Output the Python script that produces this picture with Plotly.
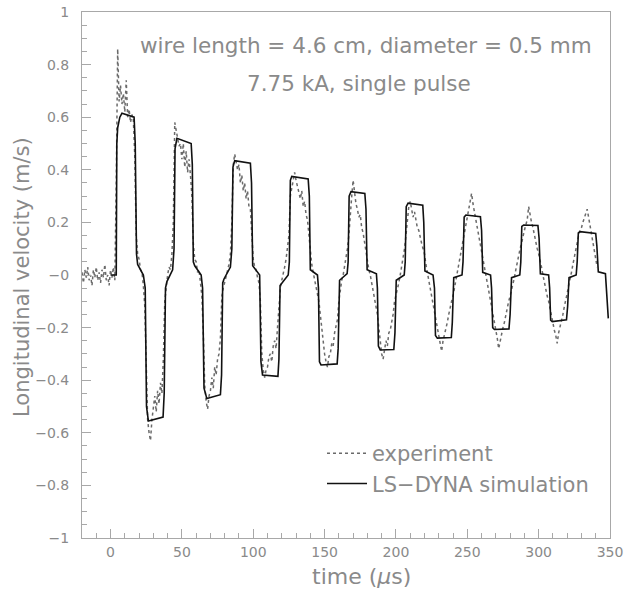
import plotly.graph_objects as go

# ---------------- data ----------------
# LS-DYNA simulation (breakpoints)
sim_t = [0, 4.0, 4.4, 5.0, 6.5, 8, 16.5, 17.3, 18.2, 19, 23, 24.3, 25.2, 26.5, 36.8, 37.6, 38.5, 39.5,
         43.5, 44.5, 45.2, 46.5, 56.5, 57.3, 58, 59, 63.5, 64.5, 65.5, 67.5, 77, 77.8, 78.6, 79.5,
         84, 85, 85.8, 87, 98, 98.8, 99.6, 104.5, 105.4, 106.5, 117.3, 118, 118.8, 124.5,
         125.3, 126, 127, 138.5, 139.3, 140, 145, 145.7, 146.4, 147.5, 158.8, 159.5, 160.5, 165.8,
         166.5, 167.2, 168.5, 178.2, 179, 179.8, 186.3, 187, 187.7, 189, 198.5, 199.3, 200.2, 205.8,
         206.5, 207.2, 208.5, 218.8, 219.5, 220.3, 226, 227, 227.7, 229, 238.8, 239.5, 240.5, 246.3,
         247, 247.8, 249, 259.2, 260, 260.8, 266.3, 267, 267.8, 269, 279.2, 280, 281, 286.8,
         287.5, 288.2, 289.5, 299.5, 300.3, 301.2, 307, 307.7, 308.4, 309.5, 319.5, 320.3, 321.3, 326.3,
         327, 327.8, 329, 340, 340.8, 341.8, 346.8, 347.6, 348.8]
sim_v = [0, 0, 0.50, 0.56, 0.60, 0.615, 0.60, 0.50, 0.08, 0.04, 0.0, -0.05, -0.50, -0.555, -0.54, -0.45, -0.05, -0.025,
         0.02, 0.10, 0.48, 0.52, 0.50, 0.42, 0.05, 0.035, 0.0, -0.05, -0.43, -0.47, -0.455, -0.38, -0.03, -0.015,
         0.03, 0.10, 0.41, 0.435, 0.425, 0.35, 0.035, 0.0, -0.33, -0.38, -0.385, -0.32, -0.04, 0.0,
         0.05, 0.36, 0.375, 0.365, 0.30, 0.02, 0.0, -0.05, -0.33, -0.342, -0.338, -0.28, -0.02, 0.005,
         0.05, 0.30, 0.317, 0.31, 0.25, 0.02, 0.005, -0.05, -0.27, -0.285, -0.283, -0.22, -0.02, 0.0,
         0.05, 0.26, 0.273, 0.265, 0.20, 0.015, 0.0, -0.05, -0.23, -0.24, -0.238, -0.18, -0.01, 0.0,
         0.05, 0.22, 0.228, 0.222, 0.17, 0.01, 0.0, -0.05, -0.20, -0.207, -0.205, -0.15, -0.01, 0.0,
         0.05, 0.185, 0.19, 0.188, 0.14, 0.005, 0.0, -0.05, -0.172, -0.177, -0.17, -0.12, -0.01, 0.0,
         0.05, 0.16, 0.165, 0.158, 0.11, 0.012, 0.005, -0.05, -0.165]

# Experiment: one reading per microsecond from t = -20 to 341
exp_t = list(range(-20, 342))
exp_v = [
    0.01, -0.03, 0.02, -0.01, 0.03, -0.02, 0.0, -0.04, 0.02, -0.01,        # -20..-11
    0.03, -0.02, 0.01, -0.03, 0.02, -0.01, 0.04, -0.02, 0.0, -0.04,        # -10..-1
    0.02, -0.01, 0.03, -0.02, 0.35, 0.86, 0.66, 0.72, 0.65, 0.69,          # 0..9
    0.62, 0.74, 0.60, 0.63, 0.58, 0.61, 0.59, 0.45, 0.15, 0.08,            # 10..19
    0.06, 0.02, 0.01, -0.04, -0.12, -0.35, -0.55, -0.60, -0.63, -0.55,     # 20..29
    -0.50, -0.46, -0.52, -0.44, -0.49, -0.41, -0.45, -0.32, -0.10, -0.04,  # 30..39
    0.0, 0.03, 0.02, 0.08, 0.20, 0.58, 0.54, 0.52, 0.49, 0.50,             # 40..49
    0.44, 0.50, 0.41, 0.47, 0.39, 0.44, 0.38, 0.30, 0.12, 0.06,            # 50..59
    0.05, 0.01, 0.02, -0.02, -0.08, -0.22, -0.42, -0.48, -0.51, -0.46,     # 60..69
    -0.44, -0.39, -0.43, -0.35, -0.38, -0.32, -0.30, -0.24, -0.08, -0.05,  # 70..79
    -0.03, 0.0, 0.02, 0.04, 0.08, 0.20, 0.42, 0.46, 0.43, 0.40,            # 80..89
    0.42, 0.35, 0.38, 0.32, 0.35, 0.29, 0.32, 0.26, 0.25, 0.15,            # 90..99
    0.06, 0.03, 0.02, -0.01, -0.03, -0.10, -0.30, -0.36, -0.39, -0.36,     # 100..109
    -0.35, -0.31, -0.30, -0.33, -0.27, -0.25, -0.28, -0.20, -0.12, -0.05,  # 110..119
    -0.02, 0.0, 0.03, 0.06, 0.10, 0.15, 0.30, 0.33, 0.37, 0.39,            # 120..129
    0.36, 0.34, 0.31, 0.29, 0.32, 0.26, 0.28, 0.23, 0.21, 0.15,            # 130..139
    0.08, 0.04, 0.01, -0.02, -0.04, -0.07, -0.10, -0.15, -0.20, -0.26,     # 140..149
    -0.30, -0.33, -0.35, -0.31, -0.30, -0.26, -0.27, -0.22, -0.20, -0.17,  # 150..159
    -0.10, -0.05, -0.02, 0.0, 0.03, 0.06, 0.10, 0.15, 0.25, 0.30,          # 160..169
    0.36, 0.30, 0.27, 0.25, 0.22, 0.23, 0.18, 0.16, 0.12, 0.10,            # 170..179
    0.06, 0.02, 0.0, -0.03, -0.06, -0.09, -0.12, -0.15, -0.20, -0.25,      # 180..189
    -0.30, -0.32, -0.28, -0.25, -0.27, -0.22, -0.21, -0.18, -0.15, -0.10,  # 190..199
    -0.08, -0.06, -0.03, 0.0, 0.03, 0.06, 0.10, 0.15, 0.22, 0.26,          # 200..209
    0.28, 0.25, 0.22, 0.24, 0.20, 0.18, 0.17, 0.14, 0.12, 0.10,            # 210..219
    0.08, 0.04, 0.01, -0.02, -0.05, -0.08, -0.10, -0.13, -0.16, -0.20,     # 220..229
    -0.23, -0.26, -0.29, -0.25, -0.23, -0.20, -0.18, -0.15, -0.12, -0.10,  # 230..239
    -0.08, -0.05, -0.02, 0.02, 0.05, 0.08, 0.10, 0.13, 0.17, 0.20,         # 240..249
    0.23, 0.26, 0.29, 0.31, 0.27, 0.24, 0.22, 0.18, 0.15, 0.12,            # 250..259
    0.10, 0.07, 0.03, 0.0, -0.03, -0.06, -0.09, -0.12, -0.15, -0.18,       # 260..269
    -0.20, -0.24, -0.28, -0.25, -0.22, -0.20, -0.18, -0.15, -0.13, -0.10,  # 270..279
    -0.08, -0.06, -0.04, -0.01, 0.02, 0.05, 0.08, 0.10, 0.12, 0.15,        # 280..289
    0.17, 0.19, 0.21, 0.26, 0.22, 0.20, 0.18, 0.15, 0.13, 0.10,            # 290..299
    0.08, 0.06, 0.03, 0.0, -0.03, -0.06, -0.08, -0.10, -0.13, -0.15,       # 300..309
    -0.18, -0.21, -0.23, -0.26, -0.22, -0.20, -0.18, -0.15, -0.12, -0.10,  # 310..319
    -0.07, -0.04, -0.02, 0.01, 0.04, 0.07, 0.10, 0.12, 0.15, 0.17,         # 320..329
    0.18, 0.20, 0.22, 0.23, 0.25, 0.22, 0.19, 0.16, 0.13, 0.10, 0.06, 0.03 # 330..341
]

x_tick_vals = [0, 50, 100, 150, 200, 250, 300, 350]
x_tick_text = ["0", "50", "100", "150", "200", "250", "300", "350"]
y_tick_vals = [-1, -0.8, -0.6, -0.4, -0.2, 0, 0.2, 0.4, 0.6, 0.8, 1]
y_tick_text = ["\u22121", "\u22120.8", "\u22120.6", "\u22120.4", "\u22120.2", "\u22120",
               "0.2", "0.4", "0.6", "0.8", "1"]

# ---------------- figure ----------------
FONT = "DejaVu Sans"
GRAY = "#8a8a8a"
AX = "#a8a8a8"
ML, MR, MT, MB = 82, 14, 12, 54
W, H = 624, 592
PW, PH = W - ML - MR, H - MT - MB

fig = go.Figure()
fig.add_trace(go.Scatter(x=exp_t, y=exp_v, mode="lines", name="experiment",
                         line=dict(color="#6a6a6a", width=1.5, dash="dot")))
fig.add_trace(go.Scatter(x=sim_t, y=sim_v, mode="lines", name="LS\u2212DYNA simulation",
                         line=dict(color="#111111", width=1.6)))

axis_common = dict(showline=True, linecolor=AX, linewidth=1, mirror=True,
                   ticks="inside", ticklen=9, tickcolor=AX, tickwidth=1,
                   showgrid=False, zeroline=False, automargin=False,
                   tickfont=dict(family=FONT, size=14, color=GRAY))

fig.update_xaxes(range=[-20, 350], tickmode="array", tickvals=x_tick_vals, ticktext=x_tick_text,
                 minor=dict(tick0=0, dtick=10, ticks="inside", ticklen=5, tickcolor=AX),
                 ticklabelstandoff=1, **axis_common)
fig.update_yaxes(range=[-1, 1], tickmode="array", tickvals=y_tick_vals, ticktext=y_tick_text,
                 minor=dict(tick0=0, dtick=0.05, ticks="inside", ticklen=5, tickcolor=AX),
                 ticklabelstandoff=9, **axis_common)


def px_x(px):
    return (px - ML) / PW


def px_y(py):
    return (H - MB - py) / PH


def label(text, cx, cy, size, angle=0):
    return dict(text=text, x=px_x(cx), y=px_y(cy), xref="paper", yref="paper",
                xanchor="center", yanchor="middle", showarrow=False, textangle=angle,
                font=dict(family=FONT, size=size, color=GRAY))


fig.update_layout(
    width=W, height=H,
    margin=dict(l=ML, r=MR, t=MT, b=MB, autoexpand=False),
    plot_bgcolor="white", paper_bgcolor="white",
    font=dict(family=FONT, color=GRAY),
    showlegend=True,
    legend=dict(x=px_x(322), y=px_y(433), xanchor="left", yanchor="top",
                bgcolor="rgba(0,0,0,0)", font=dict(family=FONT, size=21, color=GRAY),
                tracegroupgap=0, itemwidth=40),
    annotations=[
        label("wire length = 4.6 cm, diameter = 0.5 mm", 366, 45, 21.5),
        label("7.75 kA, single pulse", 359, 84, 21.5),
        label("time (<i>\u03bc</i>s)", 361, 576, 22),
        label("Longitudinal velocity (m/s)", 22, 277, 21, angle=-90),
    ],
)

fig.write_html("out.html")
